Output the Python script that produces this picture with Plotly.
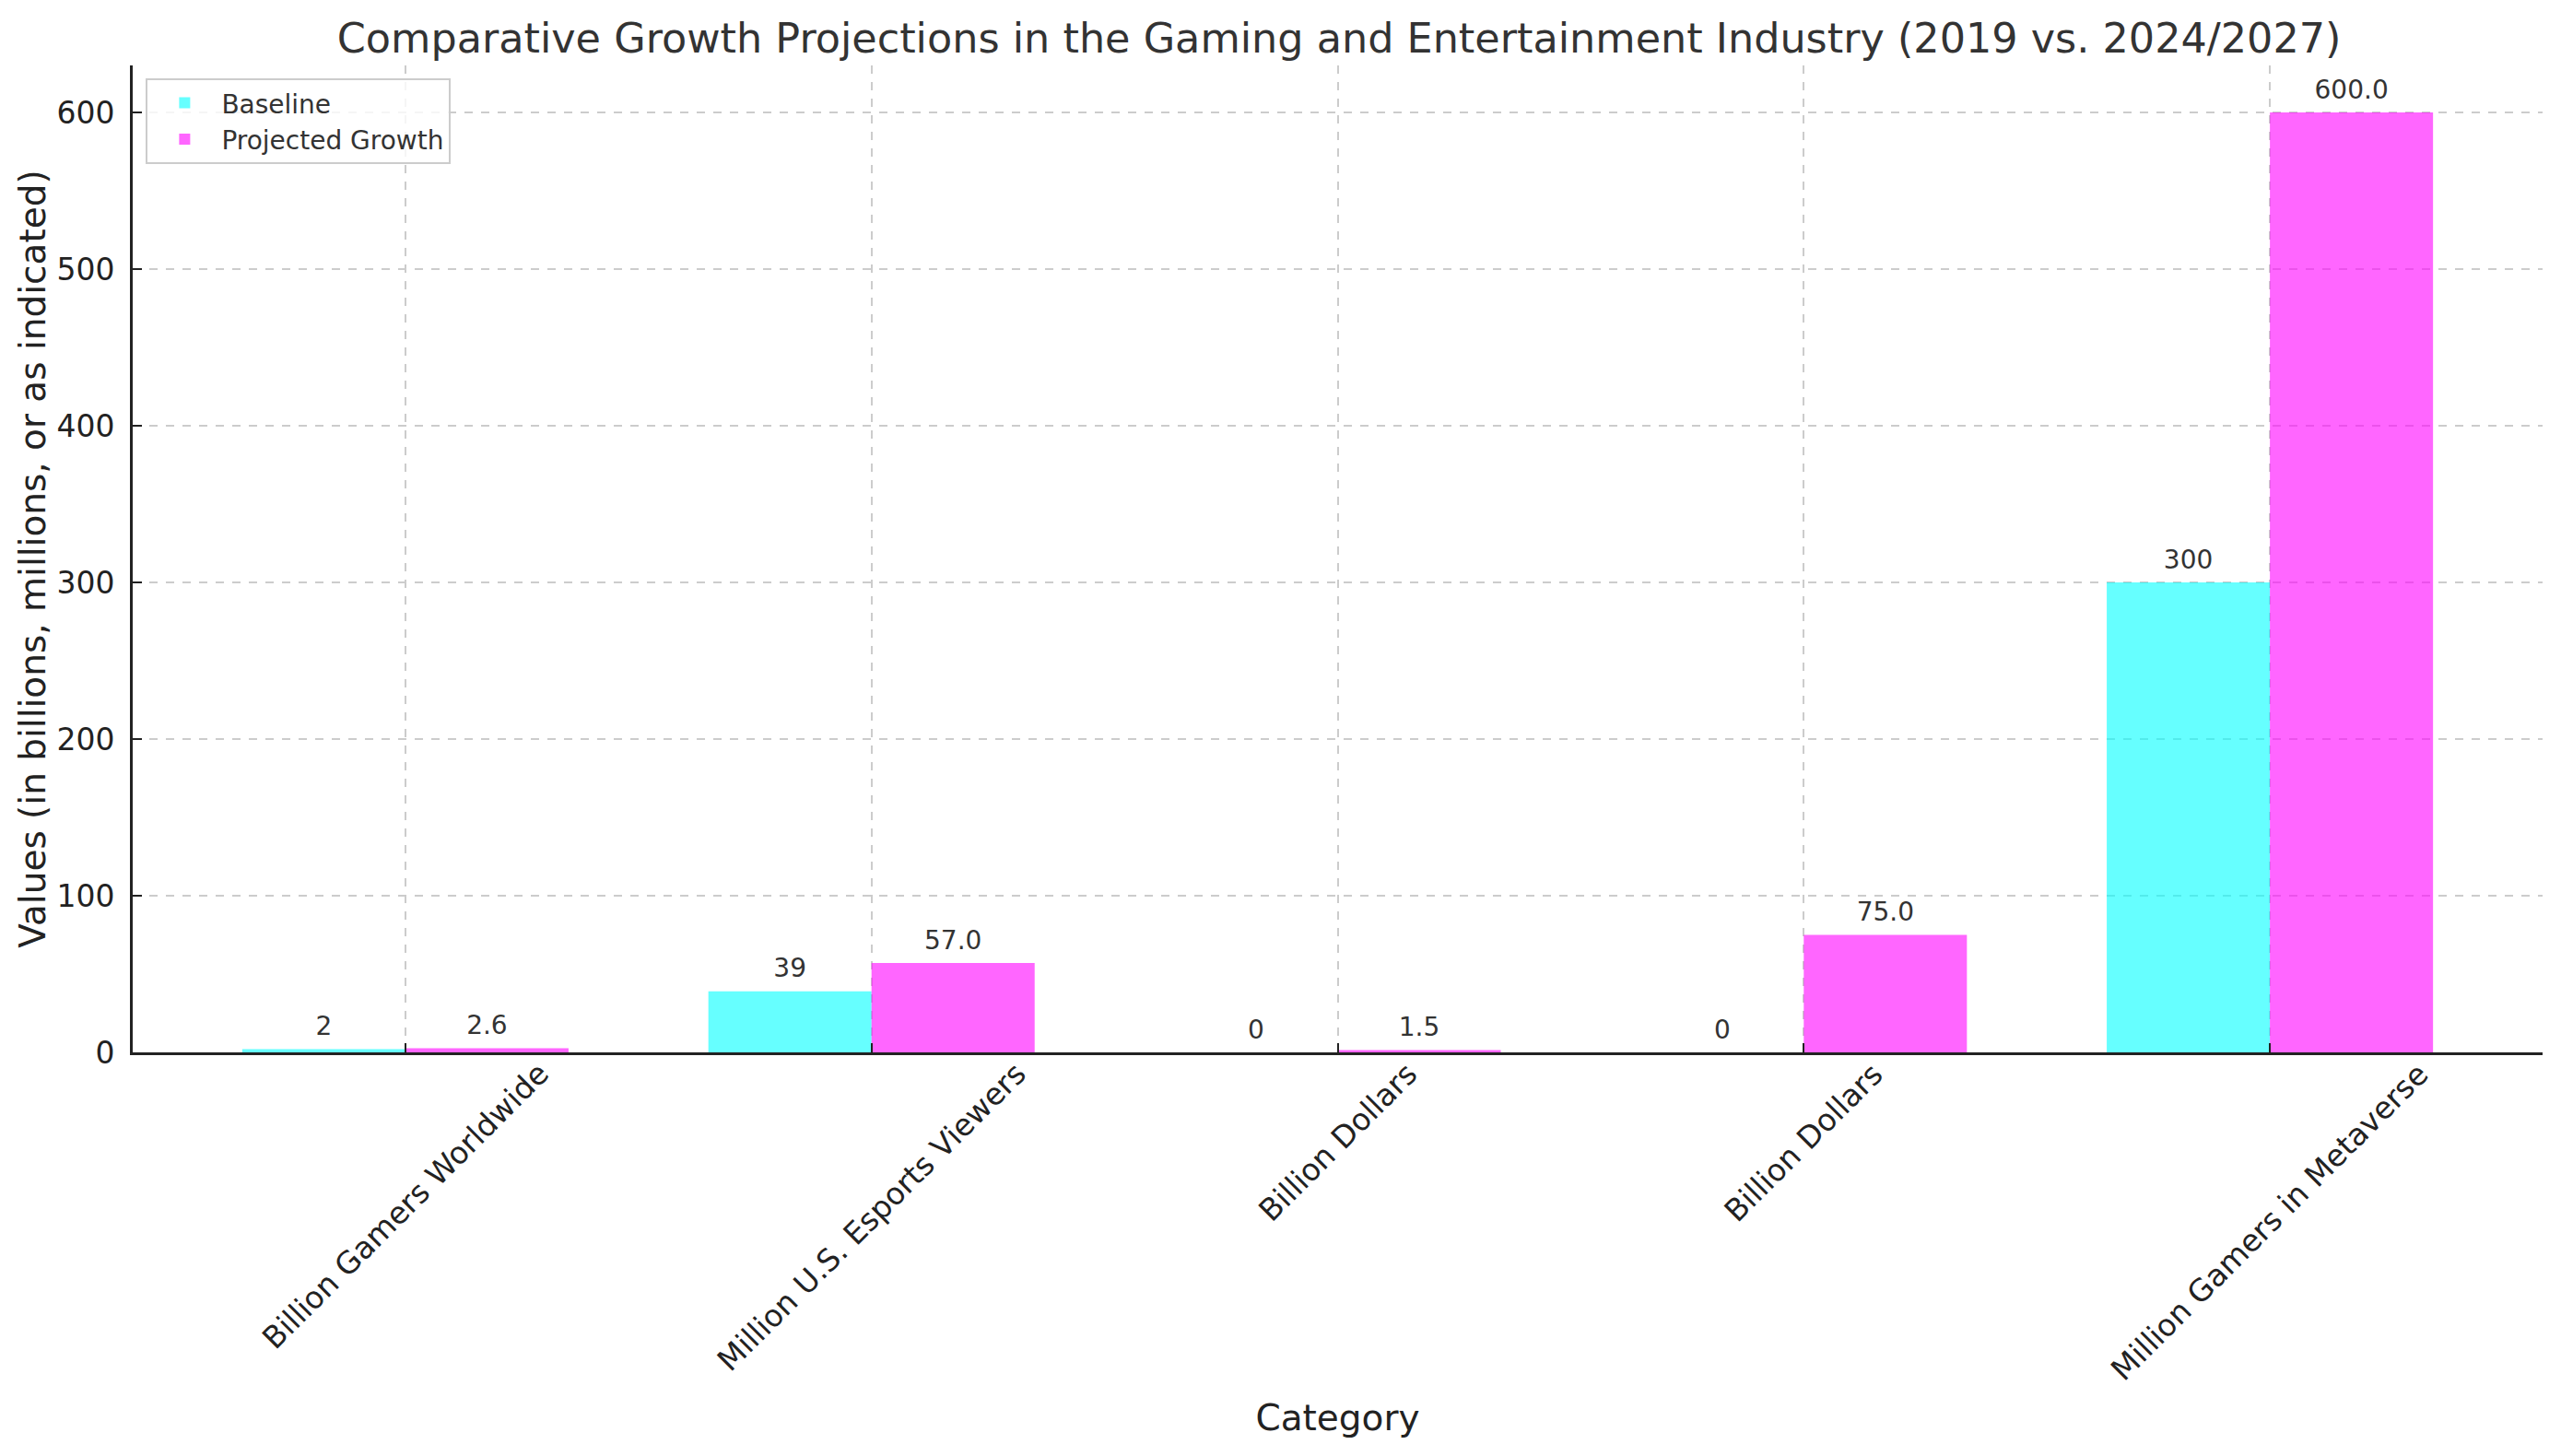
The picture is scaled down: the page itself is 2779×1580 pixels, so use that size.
import plotly.graph_objects as go

# values
categories = ["Billion Gamers Worldwide", "Million U.S. Esports Viewers",
              "Billion Dollars", "Billion Dollars", "Million Gamers in Metaverse"]
baseline = [2, 39, 0, 0, 300]
projected = [2.6, 57.0, 1.5, 75.0, 600.0]

W, H = 2779, 1580
FONT = "DejaVu Sans"
BAR_W = 0.35
idx = list(range(len(categories)))

fig = go.Figure()
fig.add_bar(x=idx, y=baseline, width=BAR_W, offset=-BAR_W, name="Baseline",
            marker=dict(color="rgba(0,255,255,0.6)", line=dict(width=0)))
fig.add_bar(x=idx, y=projected, width=BAR_W, offset=0, name="Projected Growth",
            marker=dict(color="rgba(255,0,255,0.6)", line=dict(width=0)))

# value labels above the bars (invisible marker pushes the text up a bit)
label_marker = dict(size=12, color="rgba(0,0,0,0)")
fig.add_scatter(x=[i - BAR_W / 2 for i in idx], y=baseline, mode="markers+text",
                marker=label_marker,
                text=[str(v) for v in baseline], textposition="top center",
                textfont=dict(size=28, color="#333333", family=FONT),
                showlegend=False, hoverinfo="skip")
fig.add_scatter(x=[i + BAR_W / 2 for i in idx], y=projected, mode="markers+text",
                marker=label_marker,
                text=[f"{v:.1f}" for v in projected], textposition="top center",
                textfont=dict(size=28, color="#333333", family=FONT),
                showlegend=False, hoverinfo="skip")

# rotated category labels, centred on the tick like matplotlib does
for i, c in enumerate(categories):
    fig.add_annotation(x=i, y=0, xref="x", yref="paper", text=c, showarrow=False,
                       textangle=-45, xanchor="center", yanchor="top", yshift=-1,
                       font=dict(size=33, color="#222222", family=FONT))

fig.update_layout(
    width=W, height=H,
    template="none",
    barmode="overlay",
    paper_bgcolor="white", plot_bgcolor="white",
    font=dict(family=FONT, color="#222222"),
    # page body has an 8px default margin, so shift things back
    margin=dict(l=136, r=28, t=63, b=446, autoexpand=False),
    title=dict(text="Comparative Growth Projections in the Gaming and Entertainment Industry (2019 vs. 2024/2027)",
               x=0.52, xanchor="center", y=0.989, yanchor="top",
               font=dict(size=44.5, color="#333333", family=FONT)),
    legend=dict(x=0.0055, y=0.987, xanchor="left", yanchor="top",
                bgcolor="rgba(255,255,255,0.8)", bordercolor="#cccccc", borderwidth=2,
                itemwidth=70,
                font=dict(size=28, color="#333333", family=FONT)),
    showlegend=True,
)
fig.update_xaxes(range=[-0.585, 4.585], tickvals=idx, showticklabels=False,
                 ticks="inside", ticklen=10, tickwidth=2, tickcolor="#222222",
                 showline=True, linecolor="#222222", linewidth=3, mirror=False,
                 showgrid=True, gridcolor="#cccccc", gridwidth=1.5, griddash="dash",
                 zeroline=False, automargin=False,
                 title=dict(text="Category", standoff=381,
                            font=dict(size=39, color="#222222", family=FONT)))
fig.update_yaxes(range=[0, 630], tickvals=[0, 100, 200, 300, 400, 500, 600],
                 ticks="inside", ticklen=10, tickwidth=2, tickcolor="#222222",
                 ticklabelstandoff=10,
                 tickfont=dict(size=33, color="#222222", family=FONT),
                 showline=True, linecolor="#222222", linewidth=3, mirror=False,
                 showgrid=True, gridcolor="#cccccc", gridwidth=1.5, griddash="dash",
                 zeroline=False, automargin=False,
                 title=dict(text="Values (in billions, millions, or as indicated)", standoff=0,
                            font=dict(size=39, color="#222222", family=FONT)))

fig.write_html("out.html")
